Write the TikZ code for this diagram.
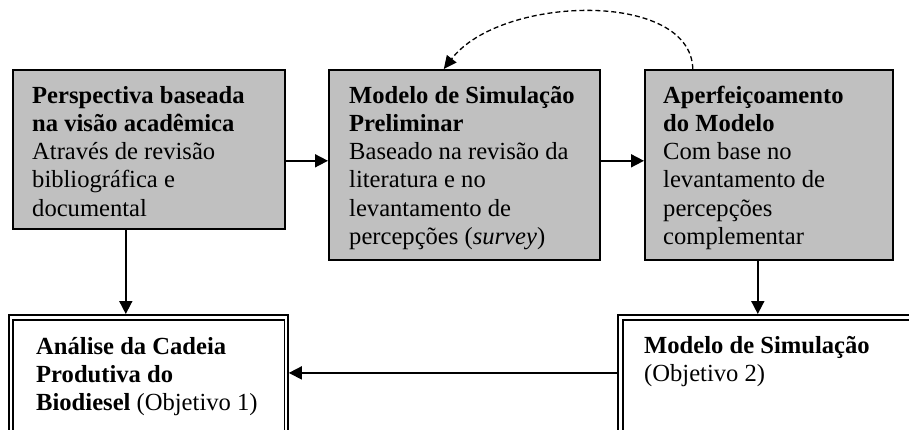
\documentclass[tikz,border=0pt]{standalone}
\usepackage{fontspec}
\setmainfont{Liberation Serif}
\usetikzlibrary{arrows.meta}
\definecolor{boxgray}{RGB}{192,192,192}
\begin{document}
\begin{tikzpicture}[x=1pt,y=-1pt,
  gbox/.style={draw, line width=1.6pt, fill=boxgray, anchor=north west, inner sep=0pt},
  obox/.style={draw, line width=1.8pt, anchor=north west, inner sep=0pt},
  ibox/.style={draw, line width=1.2pt},
  txt/.style={anchor=base west, inner sep=0pt, font=\fontsize{24.6}{28.3}\selectfont},
  arr/.style={line width=1.7pt, -{Triangle[length=13pt,width=13pt]}},
  darr/.style={line width=1.3pt, dash pattern=on 5pt off 3pt, -{Triangle[length=13pt,width=12pt]}}]
\clip (0,0) rectangle (909,429);
\fill[white] (0,0) rectangle (909,429);
% top boxes
\node[gbox, minimum width=272pt, minimum height=159pt] (b1) at (12,69) {};
\node[gbox, minimum width=271pt, minimum height=190pt] (b2) at (328,69) {};
\node[gbox, minimum width=248pt, minimum height=190pt] (b3) at (644,69) {};
% bottom boxes (double frames)
\node[obox, minimum width=279pt, minimum height=126pt] (ana) at (8,314) {};
\draw[ibox] ([shift={(5,6)}]ana.north west) rectangle ([shift={(-4,-4)}]ana.south east);
\node[obox, minimum width=302pt, minimum height=126pt] (sim) at (617,314) {};
\draw[ibox] ([shift={(6,6)}]sim.north west) rectangle ([shift={(-4,-4)}]sim.south east);
% texts
\node[txt] (t1) at (32,103) {\parbox[t]{260pt}{\textbf{Perspectiva baseada}\\\textbf{na visão acadêmica}\\Através de revisão\\bibliográfica e\\documental}};
\node[txt] (t2) at (349,103) {\parbox[t]{260pt}{\textbf{Modelo de Simulação}\\\textbf{Preliminar}\\Baseado na revisão da\\literatura e no\\levantamento de\\percepções (\textit{survey})}};
\node[txt] (t3) at (663,103) {\parbox[t]{240pt}{\textbf{Aperfeiçoamento}\\\textbf{do Modelo}\\Com base no\\levantamento de\\percepções\\complementar}};
\node[txt] (t4) at (36,354) {\parbox[t]{260pt}{\textbf{Análise da Cadeia}\\\textbf{Produtiva do}\\\textbf{Biodiesel} (Objetivo 1)}};
\node[txt] (t5) at (644,353) {\parbox[t]{260pt}{\textbf{Modelo de Simulação}\\(Objetivo 2)}};
% connectors
\draw[arr] ([yshift=-11.5pt]b1.east) -- ([yshift=4pt]b2.west);
\draw[arr] ([yshift=4pt]b2.east) -- ([yshift=4pt]b3.west);
\draw[arr] ([xshift=-23pt]b1.south) -- ([xshift=-23pt]b1.south |- ana.north);
\draw[arr] ([xshift=-11pt]b3.south) -- ([xshift=-11pt]b3.south |- sim.north);
\draw[arr] ([yshift=5pt]sim.west) -- ([yshift=5pt]sim.west -| ana.east);
\draw[darr] ([xshift=-76pt]b3.north) .. controls +(-2,-79) and +(57,-74) .. ([xshift=-20.5pt]b2.north);
\end{tikzpicture}
\end{document}
